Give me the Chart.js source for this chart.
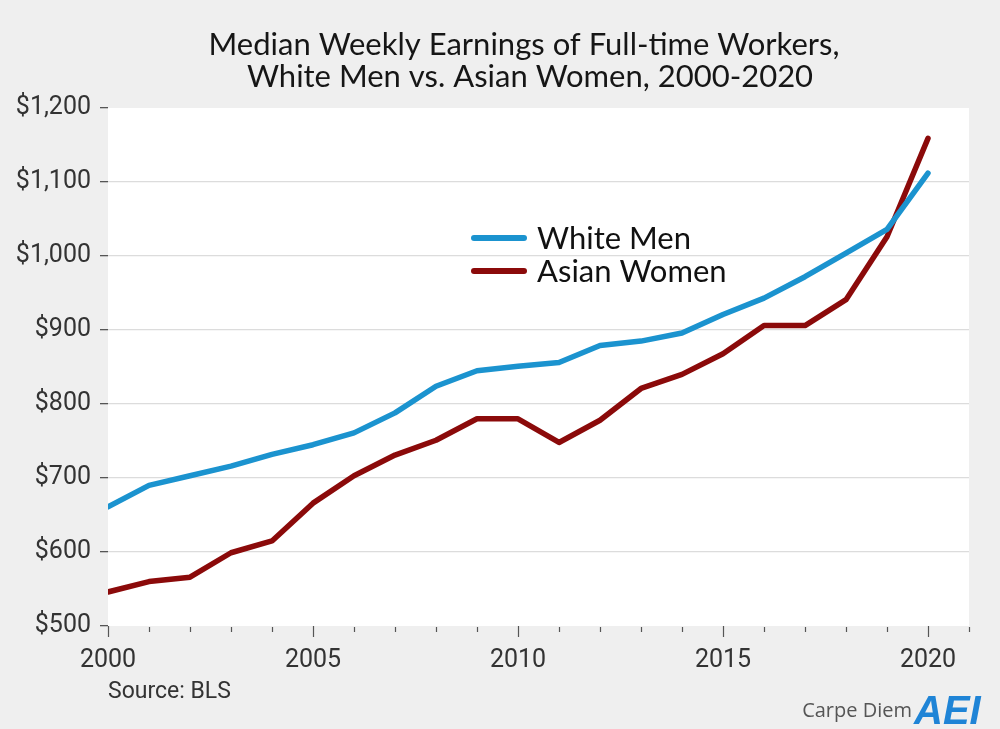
<!DOCTYPE html>
<html><head><meta charset="utf-8">
<script src="https://cdn.jsdelivr.net/npm/chart.js@4/dist/chart.umd.min.js"></script>
<style>html,body{margin:0;padding:0;background:#efefef;}#wrap{width:1000px;height:729px;position:relative;}</style>
</head><body><div id="wrap"><canvas id="c"></canvas></div>
<script>
const titleLines = ['Median Weekly Earnings of Full-time Workers,', 'White Men vs. Asian Women, 2000-2020'];
const years = [2000,2001,2002,2003,2004,2005,2006,2007,2008,2009,2010,2011,2012,2013,2014,2015,2016,2017,2018,2019,2020];
const whiteMen = [661,690,703,716,732,745,761,788,824,845,851,856,879,885,896,921,943,972,1004,1036,1112];
const asianWomen = [546,560,566,599,615,666,703,731,751,780,780,748,778,821,840,868,906,906,941,1026,1159];
const seriesNames = ['White Men', 'Asian Women'];
const xLabelYears = [2000,2005,2010,2015,2020];
const yTickValues = [500,600,700,800,900,1000,1100,1200];
const sourceText = 'Source: BLS';
const brandText = 'Carpe Diem';
const logoText = 'AEI';

const X_MIN = 2000, X_MAX = 2021;
const BG = '#efefef';

const decor = {
  id: 'decor',
  beforeDraw(chart) {
    const {ctx, chartArea: a} = chart;
    ctx.save();
    ctx.fillStyle = BG;
    ctx.fillRect(0, 0, chart.width, chart.height);
    ctx.fillStyle = '#ffffff';
    ctx.fillRect(a.left, a.top, a.right - a.left, a.bottom - a.top);
    ctx.restore();
  },
  afterDraw(chart) {
    const {ctx, chartArea: a} = chart;
    const xs = chart.scales.x;
    ctx.save();
    // x ticks (every year, longer every 5)
    ctx.strokeStyle = '#555';
    ctx.lineWidth = 1.2;
    for (let yr = X_MIN; yr <= X_MAX; yr++) {
      const px = Math.round(xs.getPixelForValue(yr)) + 0.5;
      const major = xLabelYears.includes(yr);
      ctx.beginPath();
      ctx.moveTo(px, a.bottom + (major ? 0 : 1));
      ctx.lineTo(px, a.bottom + (major ? 11 : 6));
      ctx.stroke();
    }
    // title
    ctx.fillStyle = '#161616';
    ctx.font = '31px Lato';
    ctx.textAlign = 'center';
    ctx.textBaseline = 'middle';
    ctx.fillText(titleLines[0], 524, 45);
    ctx.fillText(titleLines[1], 530, 77);
    // legend
    const ds = chart.data.datasets;
    ds.forEach((d, i) => {
      const y = 238 + i * 33;
      ctx.strokeStyle = d.borderColor;
      ctx.lineWidth = 6;
      ctx.lineCap = 'round';
      ctx.beginPath();
      ctx.moveTo(474, y);
      ctx.lineTo(524, y);
      ctx.stroke();
      ctx.fillStyle = '#111';
      ctx.font = '31px Lato';
      ctx.textAlign = 'left';
      ctx.textBaseline = 'middle';
      ctx.fillText(d.label, 537, y + 1);
    });
    // source
    ctx.fillStyle = '#333';
    ctx.font = '23px Roboto';
    ctx.textAlign = 'left';
    ctx.textBaseline = 'middle';
    ctx.fillText(sourceText, 108, 692);
    // brand
    ctx.fillStyle = '#555';
    ctx.font = '20px "Open Sans"';
    ctx.textAlign = 'right';
    ctx.fillText(brandText, 912, 711);
    ctx.fillStyle = '#1f84d6';
    ctx.font = 'italic bold 40px "Liberation Sans"';
    ctx.textAlign = 'left';
    ctx.textBaseline = 'alphabetic';
    ctx.fillText(logoText, 914, 724);
    ctx.restore();
  }
};

new Chart(document.getElementById('c'), {
  type: 'line',
  data: {
    datasets: [
      { label: seriesNames[0], data: years.map((yr, i) => ({x: yr, y: whiteMen[i]})), borderColor: '#1b93cf', borderWidth: 5.5, pointRadius: 0, tension: 0, borderCapStyle: 'round', borderJoinStyle: 'round' },
      { label: seriesNames[1], data: years.map((yr, i) => ({x: yr, y: asianWomen[i]})), borderColor: '#8b0a0a', borderWidth: 5.5, pointRadius: 0, tension: 0, borderCapStyle: 'round', borderJoinStyle: 'round' }
    ]
  },
  options: {
    responsive: true,
    maintainAspectRatio: false,
    animation: false,
    devicePixelRatio: 1,
    layout: { padding: { top: 108, right: 31, left: 0, bottom: 0 } },
    plugins: { legend: { display: false }, tooltip: { enabled: false }, title: { display: false } },
    scales: {
      x: {
        type: 'linear', min: X_MIN, max: X_MAX,
        afterBuildTicks: s => { s.ticks = xLabelYears.map(v => ({value: v})); },
        afterFit: s => { s.height = 103; },
        border: { display: false },
        grid: { drawOnChartArea: false, drawTicks: false },
        ticks: { padding: 20, color: '#333', font: { family: 'Roboto', size: 25 }, maxRotation: 0, autoSkip: false, callback: v => String(v) }
      },
      y: {
        min: 500, max: 1200,
        afterBuildTicks: s => { s.ticks = yTickValues.map(v => ({value: v})); },
        afterFit: s => { s.width = 108; },
        border: { display: false },
        grid: {
          color: c => (c.tick && (c.tick.value === 500 || c.tick.value === 1200)) ? 'rgba(0,0,0,0)' : '#dcdcdc',
          lineWidth: 1.3,
          tickColor: '#555', tickLength: 8, drawTicks: true
        },
        ticks: { padding: 9, color: '#333', font: { family: 'Roboto', size: 25 }, callback: v => '$' + Number(v).toLocaleString('en-US') }
      }
    }
  },
  plugins: [decor]
});
</script>
</body></html>
